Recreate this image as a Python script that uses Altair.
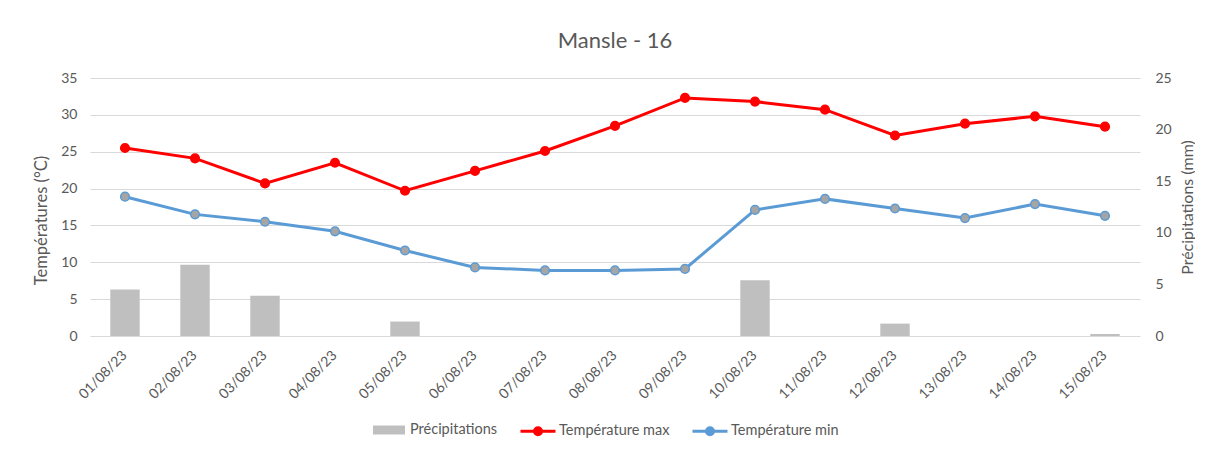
import altair as alt
import pandas as pd

dates = ["01/08/23", "02/08/23", "03/08/23", "04/08/23", "05/08/23", "06/08/23", "07/08/23",
         "08/08/23", "09/08/23", "10/08/23", "11/08/23", "12/08/23", "13/08/23", "14/08/23", "15/08/23"]
precip = [4.5, 6.9, 3.9, 0.0, 1.4, 0.0, 0.0, 0.0, 0.0, 5.4, 0.0, 1.2, 0.0, 0.0, 0.2]
tmax = [25.5, 24.1, 20.7, 23.5, 19.7, 22.4, 25.1, 28.5, 32.3, 31.8, 30.7, 27.2, 28.8, 29.8, 28.4]
tmin = [18.9, 16.5, 15.5, 14.2, 11.6, 9.3, 8.9, 8.9, 9.1, 17.1, 18.6, 17.3, 16.0, 17.9, 16.3]

series_names = ["Précipitations", "Température max", "Température min"]

bars_df = pd.DataFrame({"date": dates, "precip": precip, "series": series_names[0]})
lines_df = pd.concat([
    pd.DataFrame({"date": dates, "value": tmax, "series": series_names[1]}),
    pd.DataFrame({"date": dates, "value": tmin, "series": series_names[2]}),
])

FONT = "Lato"
GREY_TXT = "#595959"

x_enc = alt.X(
    "date:N", sort=dates, title=None,
    scale=alt.Scale(paddingInner=0.58, paddingOuter=0.29),
    axis=alt.Axis(labelAngle=-45, labelAlign="right", labelBaseline="middle",
                  labelPadding=17, ticks=False, domain=False, grid=False,
                  labelFontSize=14, labelColor=GREY_TXT, labelFont=FONT),
)

bars = alt.Chart(bars_df).mark_bar(color="#BFBFBF").encode(
    x=x_enc,
    y=alt.Y("precip:Q", scale=alt.Scale(domain=[0, 25]),
            axis=alt.Axis(orient="right", values=[0, 5, 10, 15, 20, 25], grid=False,
                          ticks=False, domain=False, title="Précipitations (mm)",
                          titleAngle=270, labelPadding=15, titlePadding=24,
                          labelFontSize=14, labelColor=GREY_TXT, labelFont=FONT,
                          titleFontSize=16, titleColor=GREY_TXT, titleFont=FONT,
                          titleFontWeight="normal")),
    color=alt.Color("series:N", scale=alt.Scale(domain=[series_names[0]], range=["#BFBFBF"]),
                    legend=alt.Legend(orient="none", legendX=283, legendY=336,
                                      title=None, direction="horizontal",
                                      symbolType="M-1,-0.28H1V0.28H-1Z", symbolSize=1024,
                                      symbolStrokeWidth=0, symbolOpacity=1, labelOffset=5,
                                      labelFontSize=14.5, labelColor=GREY_TXT, labelFont=FONT)),
)

line_path = ("M-1,0H1M-0.2,0A0.2,0.2 0 1 0 0.2,0A0.2,0.2 0 1 0 -0.2,0"
             "M-0.1,0A0.1,0.1 0 1 0 0.1,0A0.1,0.1 0 1 0 -0.1,0")

y_left = alt.Y("value:Q", scale=alt.Scale(domain=[0, 35]),
               axis=alt.Axis(orient="left", values=[0, 5, 10, 15, 20, 25, 30, 35], grid=True,
                             gridColor="#D9D9D9", gridWidth=1, ticks=False, domain=False,
                             title="Températures (°C)", labelPadding=13, titlePadding=11,
                             titleY=142,
                             labelFontSize=14, labelColor=GREY_TXT, labelFont=FONT,
                             titleFontSize=16.5, titleColor=GREY_TXT, titleFont=FONT,
                             titleFontWeight="normal"))

lines = alt.Chart(lines_df).mark_line(strokeWidth=3).encode(
    x=x_enc,
    y=y_left,
    color=alt.Color("series:N",
                    scale=alt.Scale(domain=series_names[1:], range=["#FF0000", "#5B9BD5"]),
                    legend=alt.Legend(orient="none", legendX=429, legendY=334,
                                      title=None, direction="horizontal",
                                      symbolType=line_path, symbolSize=1225, symbolStrokeWidth=3,
                                      columnPadding=16, labelOffset=2,
                                      labelFontSize=14.5, labelColor=GREY_TXT, labelFont=FONT)),
)

points = alt.Chart(lines_df).mark_point(filled=True, size=75, strokeWidth=1.5, opacity=1).encode(
    x=x_enc,
    y=y_left,
    fill=alt.Fill("series:N", scale=alt.Scale(domain=series_names[1:], range=["#FF0000", "#A5A5A5"]),
                  legend=None),
    stroke=alt.Stroke("series:N", scale=alt.Scale(domain=series_names[1:], range=["#FF0000", "#5B9BD5"]),
                      legend=None),
)

temp_layer = alt.layer(lines, points)

chart = alt.layer(bars, temp_layer).resolve_scale(
    y="independent", color="independent"
).properties(
    width=1050, height=258,
    title=alt.TitleParams("Mansle - 16", fontSize=22, color=GREY_TXT, font=FONT,
                          fontWeight="normal", anchor="middle", offset=18),
    padding={"left": 82, "top": 70, "right": 55, "bottom": 112},
    autosize=alt.AutoSizeParams(type="none"),
).configure_view(stroke=None)

chart.save("out.html", embed_options={"renderer": "svg", "actions": False})
